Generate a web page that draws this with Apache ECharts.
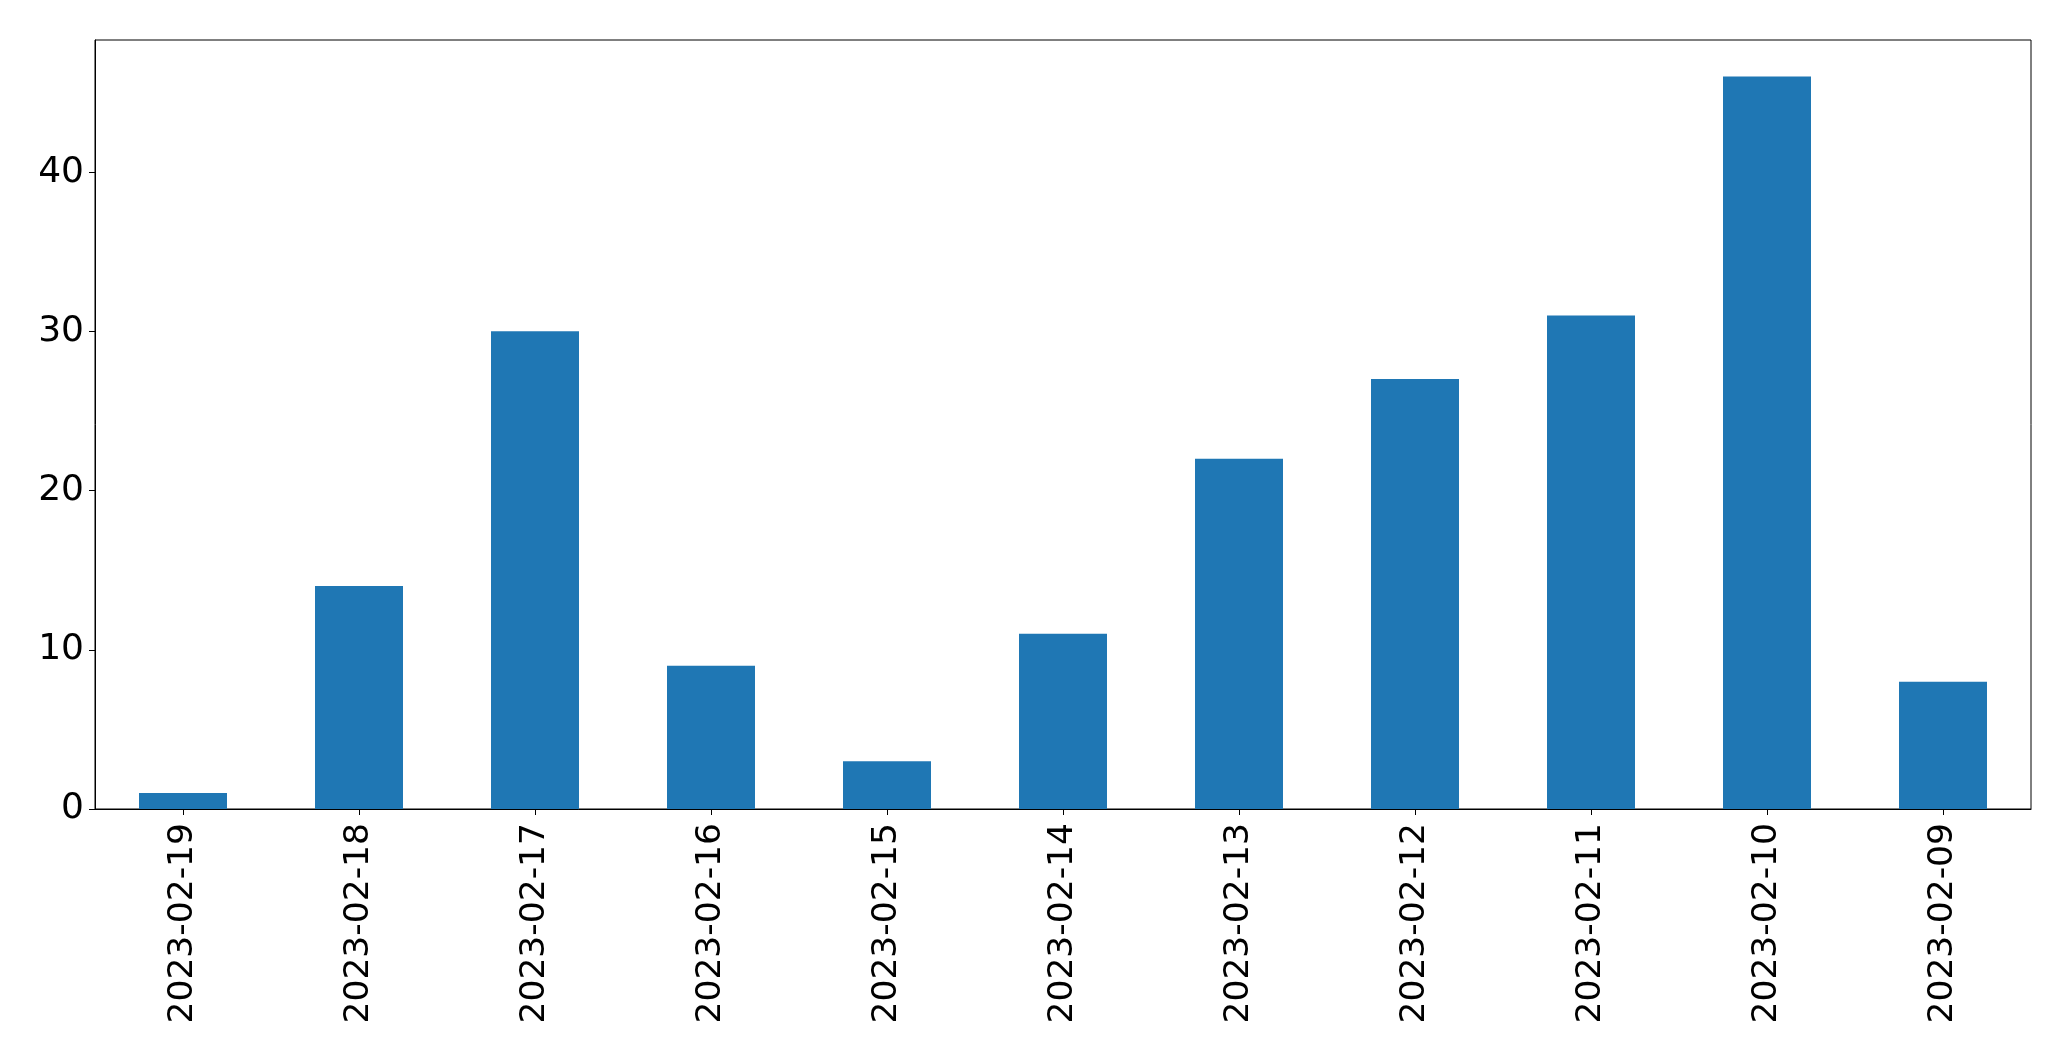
<!DOCTYPE html>
<html>
<head>
<meta charset="utf-8">
<script src="https://cdn.jsdelivr.net/npm/echarts@6/dist/echarts.min.js"></script>
<style>
html,body{margin:0;padding:0;background:#fff;}
#chart{width:2071px;height:1061px;}
</style>
</head>
<body>
<div id="chart"></div>
<script>
const categories = ["2023-02-19","2023-02-18","2023-02-17","2023-02-16","2023-02-15","2023-02-14","2023-02-13","2023-02-12","2023-02-11","2023-02-10","2023-02-09"];
const values = [1, 14, 30, 9, 3, 11, 22, 27, 31, 46, 8];
const yTicks = [0, 10, 20, 30, 40];

const chart = echarts.init(document.getElementById('chart'), null, {renderer: 'canvas'});
const font = 'DejaVu Sans';
chart.setOption({
  animation: false,
  backgroundColor: '#ffffff',
  grid: {left: 95, right: 40, top: 40, bottom: 252, show: true, borderColor: '#000', borderWidth: 1, backgroundColor: 'transparent'},
  xAxis: {
    type: 'category',
    data: categories,
    axisLine: {show: true, lineStyle: {color: '#000', width: 1}},
    axisTick: {show: true, alignWithLabel: true, length: 6, lineStyle: {color: '#000'}},
    axisLabel: {rotate: 90, color: '#000', fontFamily: font, fontSize: 34.5, margin: 14, interval: 0},
    splitLine: {show: false}
  },
  yAxis: {
    type: 'value',
    min: 0,
    max: 48.3,
    interval: 10,
    axisLine: {show: true, lineStyle: {color: '#000', width: 1}},
    axisTick: {show: true, length: 6, lineStyle: {color: '#000'}, customValues: yTicks},
    axisLabel: {color: '#000', fontFamily: font, fontSize: 36, margin: 11, customValues: yTicks},
    splitLine: {show: false}
  },
  series: [{
    type: 'bar',
    data: values,
    barWidth: '50%',
    itemStyle: {color: '#1f77b4'}
  }]
});
</script>
</body>
</html>
